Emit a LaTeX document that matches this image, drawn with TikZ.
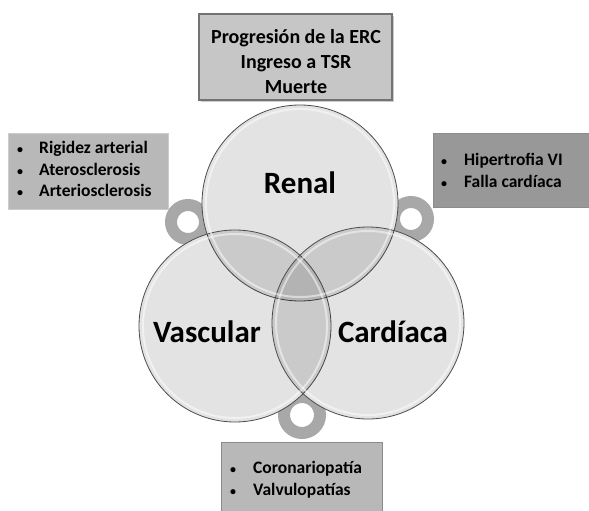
\documentclass[tikz,border=0pt]{standalone}
\usepackage{fontspec}
\setmainfont{Carlito}
\usetikzlibrary{shadows}

\definecolor{ringgray}{RGB}{168,168,168}
\definecolor{topfill}{RGB}{198,198,198}
\definecolor{sidefill}{RGB}{184,184,184}
\definecolor{darkfill}{RGB}{152,152,152}

\newcommand{\dotmark}{{\fontsize{12}{12}\selectfont\textbullet}}

\tikzset{
  ring/.style={draw=ringgray, line width=12pt},
  venn/.style={fill=black, fill opacity=0.11, draw=black!70, line width=0.8pt, draw opacity=1},
  bigword/.style={font=\fontsize{31}{36}\selectfont\bfseries},
  listbox/.style={font=\fontsize{17.5}{21.5}\selectfont\bfseries, anchor=west, align=left, inner sep=0pt},
}

\begin{document}
\begin{tikzpicture}[x=1pt,y=-1pt]
	\useasboundingbox (0,0) rectangle (589,511);
	% gray loops behind the circles
	\draw[ring] (188,222) circle (17);
	\draw[ring] (411,219) circle (17);
	\draw[ring] (302,415) circle (18);
	% circles
	\fill[white] (300,203) circle (98);
	\fill[white] (235,326) circle (96);
	\fill[white] (368,323) circle (96);
	\draw[venn] (300,203) circle (98);
	\draw[venn] (235,326) circle (96);
	\draw[venn] (368,323) circle (96);
	\draw[white, opacity=0.5, line width=2pt] (300,203) circle (94);
	\draw[white, opacity=0.5, line width=2pt] (235,326) circle (92);
	\draw[white, opacity=0.5, line width=2pt] (368,323) circle (92);
	\node[bigword] (renal) at (300,183) {Renal};
	\node[bigword] (vascular) at (207,332) {Vascular};
	\node[bigword] (cardiaca) at (393,332) {Cardíaca};
	% boxes
	\fill[topfill, draw=black!55, line width=2.5pt, drop shadow={opacity=0.4}] (199,14) rectangle (392,100);
	\node[font=\fontsize{20}{25}\selectfont\bfseries, align=center] (outcome) at (296,62) {Progresión de la ERC\\Ingreso a TSR\\Muerte};
	\fill[sidefill, draw=black!20, line width=0.6pt] (8,133) rectangle (168,209);
	\node[listbox] (vasclist) at (17,171) {\begin{tabular}{@{}l@{\hspace{16pt}}l@{}}
		\dotmark & Rigidez arterial\\
		\dotmark & Aterosclerosis\\
		\dotmark & Arteriosclerosis
	\end{tabular}};
	\fill[darkfill, draw=black!45, line width=0.8pt] (433,133) rectangle (589,207);
	\node[listbox] (cardlist) at (441,172) {\begin{tabular}{@{}l@{\hspace{17pt}}l@{}}
		\dotmark & Hipertrofia VI\\
		\dotmark & Falla cardíaca
	\end{tabular}};
	\fill[sidefill, draw=black!45, line width=0.8pt] (221,442) rectangle (382,512);
	\node[listbox] (corlist) at (230,480) {\begin{tabular}{@{}l@{\hspace{17pt}}l@{}}
		\dotmark & Coronariopatía\\
		\dotmark & Valvulopatías
	\end{tabular}};
\end{tikzpicture}
\end{document}
